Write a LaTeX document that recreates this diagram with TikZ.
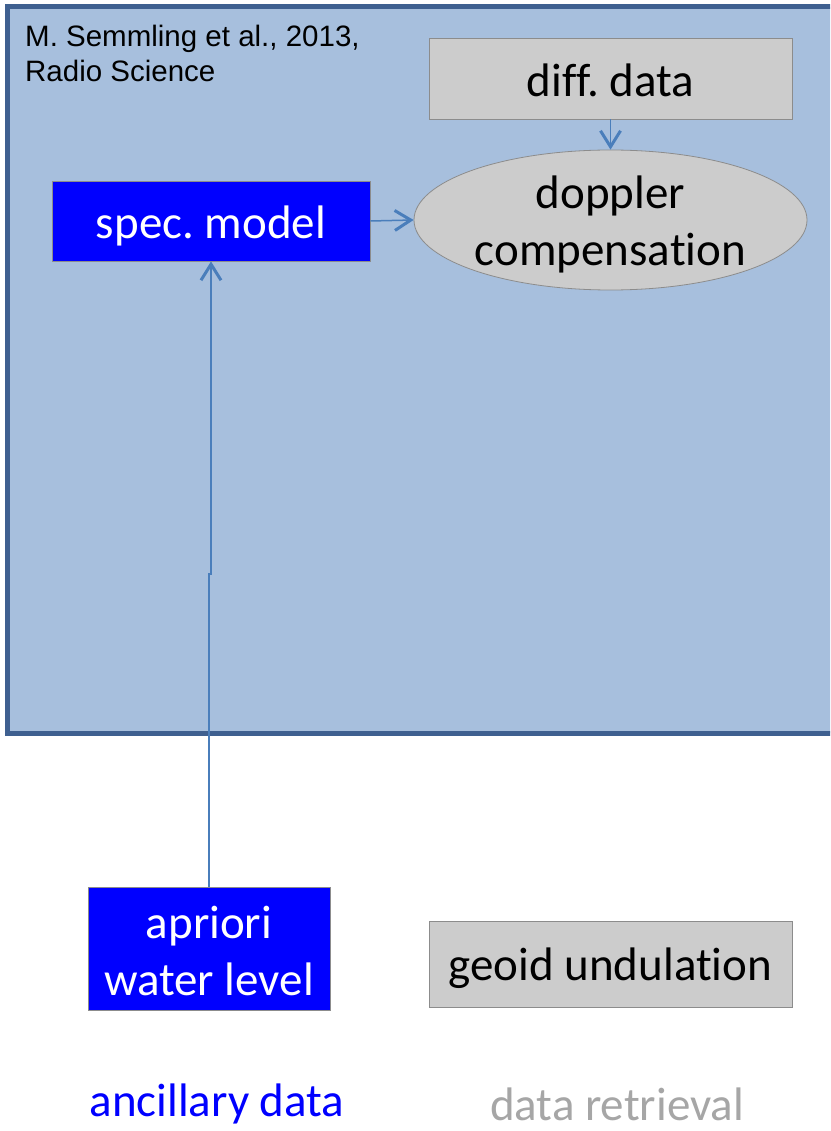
\documentclass[tikz,border=0pt]{standalone}
\usepackage{fontspec}
\setmainfont{Carlito}[Ligatures={NoCommon}]
\newfontfamily\arialfont{Liberation Sans}
\usepackage{xcolor}
\usetikzlibrary{arrows.meta,shapes.geometric}
\frenchspacing

\definecolor{panelfill}{HTML}{A7BFDD}
\definecolor{panelline}{HTML}{3F6090}
\definecolor{linkblue}{HTML}{4A7EBB}
\definecolor{boxgray}{HTML}{CCCCCC}
\definecolor{boxedge}{HTML}{8C8C8C}
\definecolor{pureblue}{HTML}{0000FF}
\definecolor{textgray}{HTML}{A6A6A6}

% line strut, so text sits as in the slide
\newcommand{\ls}{\rule[-6pt]{0pt}{48pt}}

\tikzset{
  bigfont/.style={font=\fontsize{47}{57}\selectfont},
  graybox/.style={bigfont, draw=boxedge, line width=0.8pt, fill=boxgray, inner sep=0pt, align=center},
  bluebox/.style={bigfont, draw=boxedge, line width=0.8pt, fill=pureblue, text=white, inner sep=0pt, align=center},
  conn/.style={draw=linkblue, line width=1.5pt, -{Straight Barb[length=16pt,width=20pt,line width=3pt]}}
}

\begin{document}
\begin{tikzpicture}[x=1pt,y=-1pt]

\clip (0,0) rectangle (830,1131);
\fill[white] (0,0) rectangle (830,1131);

% panel
\draw[fill=panelfill, draw=panelline, line width=5pt] (7,7) rectangle (850,733);
\node[font=\arialfont\fontsize{29.5}{35}\selectfont, anchor=north west, align=left, inner sep=0pt] (ref) at (25,25) {M. Semmling et al., 2013,\\Radio Science};

% boxes
\node[graybox, minimum width=363pt, minimum height=81pt] (diff) at (610.5,78.5) {\ls diff. data};
\node[graybox, ellipse, minimum width=393pt, minimum height=140pt,
  label={[bigfont, align=center, inner sep=0pt]center:\ls doppler\\\ls compensation}] (dopp) at (610.5,220) {};
\node[bluebox, minimum width=318pt, minimum height=80pt] (spec) at (211,221) {\ls spec. model};
\node[bluebox, minimum width=242pt, minimum height=123pt] (wl) at (209,948.5) {\ls apriori\\\ls water level};
\node[graybox, minimum width=363pt, minimum height=86pt] (geoid) at (610.5,964) {\ls geoid undulation};

% legend
\node[bigfont, text=pureblue] (anc) at (217,1104) {ancillary data};
\node[bigfont, text=textgray] (ret) at (617,1104) {data retrieval};

% links
\coordinate (jog) at (209,574);
\draw[conn] (diff.south) -- (dopp.north);
\draw[conn] (spec.east) -- (dopp.west);
\draw[conn] (wl.north) -- (jog) -| (spec.south);

\end{tikzpicture}
\end{document}
